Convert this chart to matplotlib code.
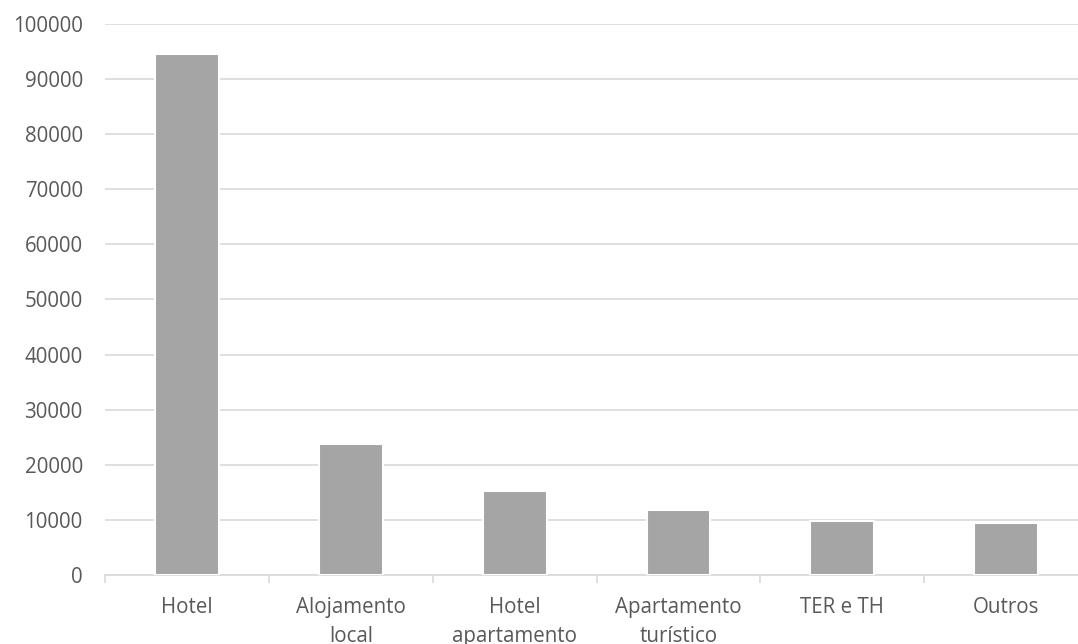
import numpy as np
import matplotlib
matplotlib.use("Agg")
import matplotlib.pyplot as plt

categories = ["Hotel", "Alojamento\nlocal", "Hotel\napartamento",
              "Apartamento\nturístico", "TER e TH", "Outros"]
values = [94500, 23700, 15200, 11800, 9800, 9400]
yticks = [0, 10000, 20000, 30000, 40000, 50000, 60000, 70000, 80000, 90000, 100000]

BAR, GRID, TXT = "#a5a5a5", "#d9d9d9", "#595959"

plt.rcParams["font.family"] = ["Open Sans", "DejaVu Sans"]

fig = plt.figure(figsize=(10.78, 6.44), dpi=100)
ax = fig.add_axes([0.0974, 0.107, 0.912, 0.856])

x = np.arange(len(categories))
ax.bar(x, values, width=0.39, color=BAR, edgecolor="white", linewidth=1.5, zorder=3)

ax.set_xlim(-0.5, len(categories) - 0.5)
ax.set_ylim(0, 100000)
ax.set_yticks(yticks)
ax.set_yticklabels([str(v) for v in yticks])
ax.set_xticks(x)
ax.set_xticklabels(categories, linespacing=1.45)
ax.set_xticks(np.arange(len(categories) + 1) - 0.5, minor=True)

ax.grid(axis="y", color=GRID, lw=1.2, zorder=0)
for sp in ["top", "right", "left"]:
    ax.spines[sp].set_visible(False)
ax.spines["bottom"].set_color(GRID)
ax.spines["bottom"].set_linewidth(1.2)

ax.tick_params(axis="y", length=0, pad=16, labelsize=14.8, labelcolor=TXT)
ax.tick_params(axis="x", which="major", length=0, pad=16, labelsize=14.8, labelcolor=TXT)
ax.tick_params(axis="x", which="minor", length=6, width=1.2, color=GRID)

plt.savefig("out.png", dpi=100, facecolor="white")
plt.close()
